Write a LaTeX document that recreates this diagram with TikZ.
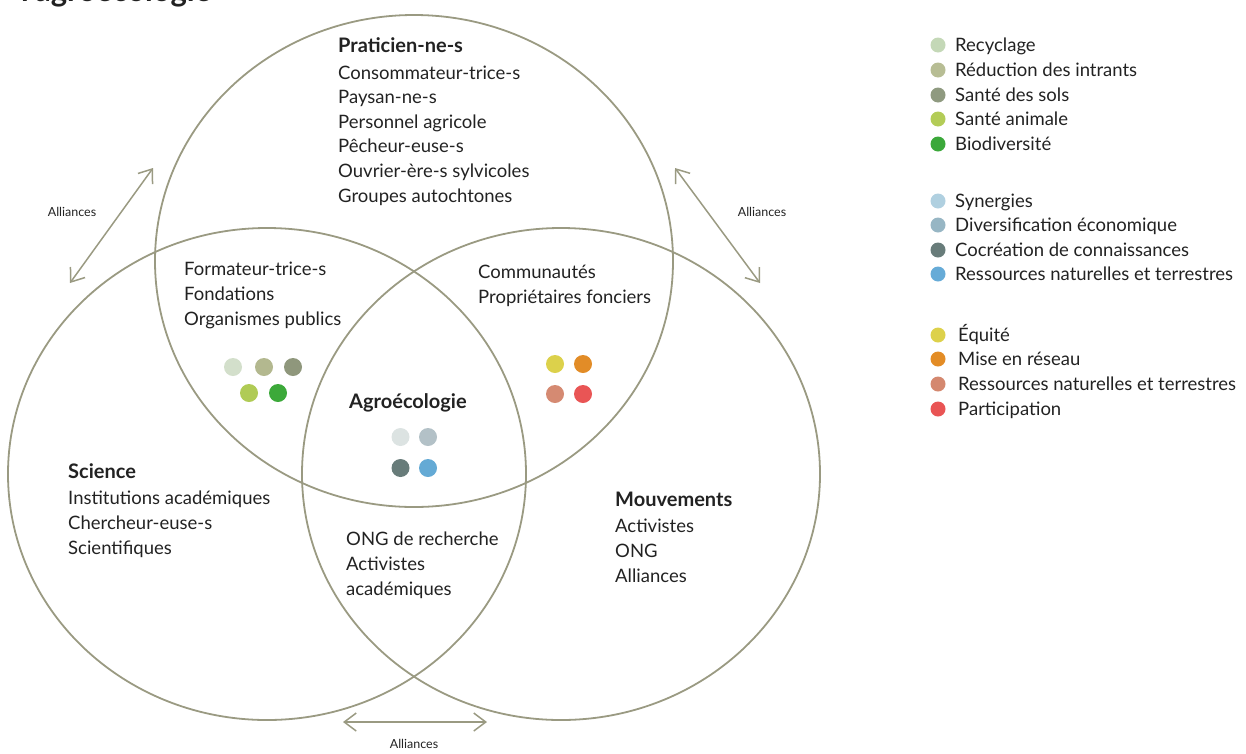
\documentclass[tikz,border=0pt]{standalone}
\usepackage{fontspec}
\setmainfont{Lato}
\usetikzlibrary{arrows.meta,shapes.geometric}
\definecolor{ringc}{HTML}{9A9A82}
\definecolor{txt}{HTML}{222222}
\definecolor{cRec}{HTML}{C4D8B7}
\definecolor{cRed}{HTML}{B7BD94}
\definecolor{cSol}{HTML}{8F9A80}
\definecolor{cAni}{HTML}{B3CC57}
\definecolor{cBio}{HTML}{3BA83A}
\definecolor{cSyn}{HTML}{B0D0E0}
\definecolor{cDiv}{HTML}{97B6C4}
\definecolor{cCoc}{HTML}{687C7A}
\definecolor{cRes}{HTML}{66ABD7}
\definecolor{cEqu}{HTML}{DDD14B}
\definecolor{cMis}{HTML}{E38C25}
\definecolor{cRet}{HTML}{D4886F}
\definecolor{cPar}{HTML}{E95454}
\definecolor{dA}{HTML}{D3DFCB}
\definecolor{dB}{HTML}{B3B88F}
\definecolor{dC}{HTML}{8F977C}
\definecolor{dD}{HTML}{B0CB55}
\definecolor{dE}{HTML}{3CA93A}
\definecolor{dF}{HTML}{DCE3E2}
\definecolor{dG}{HTML}{B3C1C7}
\definecolor{dH}{HTML}{687C7A}
\definecolor{dI}{HTML}{64AAD5}
\definecolor{dJ}{HTML}{DCD14B}
\definecolor{dK}{HTML}{E28C27}
\definecolor{dL}{HTML}{D58A72}
\definecolor{dM}{HTML}{E95555}
\newcommand{\hdtext}[1]{{\fontsize{20}{24.6}\selectfont\bfseries #1}}
\begin{document}
\begin{tikzpicture}[x=1pt,y=-1pt,
  ring/.style={draw=ringc, line width=1.8pt, ellipse, inner sep=0pt, minimum width=518pt, minimum height=492pt},
  lbl/.style={font=\fontsize{18.5}{24.6}\selectfont, align=left, anchor=base west, inner sep=0pt, text=txt},
  dot/.style={circle, minimum size=18pt, inner sep=0pt, fill=#1},
  ldot/.style={circle, minimum size=15pt, inner sep=0pt, fill=#1},
  ltxt/.style={font=\fontsize{18.5}{20}\selectfont, anchor=base west, inner sep=0pt, text=txt},
  ally/.style={draw=ringc, line width=1.5pt, {Straight Barb[length=12pt,width=18pt]}-{Straight Barb[length=12pt,width=18pt]}},
  small/.style={font=\fontsize{12.5}{14}\selectfont, inner sep=0pt, text=txt}
]
\useasboundingbox (0,0) rectangle (1246,753);

% title (cut off at the top)
\node[font=\fontsize{31}{31}\selectfont\bfseries, anchor=base west, inner sep=0pt, text=txt] (title) at (21,1) {l'agroécologie};

% circles
\node[ring] (top) at (414,261) {};
\node[ring] (left) at (267,474) {};
\node[ring] (right) at (561,474) {};

% alliances arrows
\coordinate (a1) at (153,168);
\coordinate (a2) at (70,283);
\coordinate (b1) at (675,168);
\coordinate (b2) at (760,283);
\coordinate (c1) at (343,722);
\coordinate (c2) at (487,722);
\draw[ally] (a1) -- (a2);
\draw[ally] (b1) -- (b2);
\draw[ally] (c1) -- (c2);
\node[small] (al1) at (72,212) {Alliances};
\node[small] (al2) at (762,212) {Alliances};
\node[small] (al3) at (414,744) {Alliances};

% texts (anchor = baseline of the last line)
\node[lbl] (prat) at (338,202) {\hdtext{Praticien-ne-s}\\[1.5pt]Consommateur-trice-s\\Paysan-ne-s\\Personnel agricole\\Pêcheur-euse-s\\Ouvrier-ère-s sylvicoles\\Groupes autochtones};
\node[lbl] (form) at (184,325) {Formateur-trice-s\\Fondations\\Organismes publics};
\node[lbl] (comm) at (478,303) {Communautés\\Propriétaires fonciers};
\node[lbl] (agro) at (349,408) {\hdtext{Agroécologie}};
\node[lbl] (sci) at (68,554) {\hdtext{Science}\\[1.5pt]Institutions académiques\\Chercheur-euse-s\\Scientifiques};
\node[lbl] (mouv) at (615,582) {\hdtext{Mouvements}\\[1.5pt]Activistes\\ONG\\Alliances};
\node[lbl] (ong) at (346,595) {ONG de recherche\\Activistes\\académiques};

% dots in the diagram
\node[dot=dA] (d1) at (233,367) {};
\node[dot=dB] (d2) at (264,367) {};
\node[dot=dC] (d3) at (293,367) {};
\node[dot=dD] (d4) at (249,393) {};
\node[dot=dE] (d5) at (278,393) {};
\node[dot=dF] (d6) at (400.5,437) {};
\node[dot=dG] (d7) at (428,437) {};
\node[dot=dH] (d8) at (400.5,468) {};
\node[dot=dI] (d9) at (428,468) {};
\node[dot=dJ] (d10) at (555,364) {};
\node[dot=dK] (d11) at (583,364) {};
\node[dot=dL] (d12) at (555,394) {};
\node[dot=dM] (d13) at (583,394) {};

% legend
\node[ldot=cRec] (l1) at (938,45) {};  \node[ltxt] (t1) at (955,51) {Recyclage};
\node[ldot=cRed] (l2) at (938,70) {};  \node[ltxt] (t2) at (955,76) {Réduction des intrants};
\node[ldot=cSol] (l3) at (938,95) {};  \node[ltxt] (t3) at (955,101) {Santé des sols};
\node[ldot=cAni] (l4) at (938,119) {}; \node[ltxt] (t4) at (955,125) {Santé animale};
\node[ldot=cBio] (l5) at (938,144) {}; \node[ltxt] (t5) at (955,150) {Biodiversité};
\node[ldot=cSyn] (l6) at (938,201) {}; \node[ltxt] (t6) at (955,207) {Synergies};
\node[ldot=cDiv] (l7) at (938,225) {}; \node[ltxt] (t7) at (955,231) {Diversification économique};
\node[ldot=cCoc] (l8) at (938,250) {}; \node[ltxt] (t8) at (955,256) {Cocréation de connaissances};
\node[ldot=cRes] (l9) at (938,274) {}; \node[ltxt] (t9) at (955,280) {Ressources naturelles et terrestres};
\node[ldot=cEqu] (l10) at (938,335) {}; \node[ltxt] (t10) at (958,341) {Équité};
\node[ldot=cMis] (l11) at (938,359) {}; \node[ltxt] (t11) at (958,365) {Mise en réseau};
\node[ldot=cRet] (l12) at (938,384) {}; \node[ltxt] (t12) at (958,390) {Ressources naturelles et terrestres};
\node[ldot=cPar] (l13) at (938,409) {}; \node[ltxt] (t13) at (958,415) {Participation};
\end{tikzpicture}
\end{document}
